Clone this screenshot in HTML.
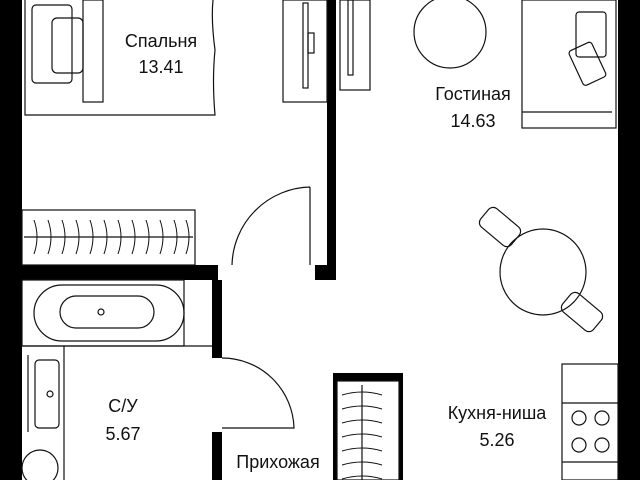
<!DOCTYPE html>
<html><head><meta charset="utf-8"><style>
html,body{margin:0;padding:0;background:#fff;}
svg{display:block;}
text{font-family:"Liberation Sans",sans-serif;font-size:18px;fill:#111;text-anchor:middle;}
</style></head><body>
<svg width="640" height="480" viewBox="0 0 640 480" xmlns="http://www.w3.org/2000/svg">
<g fill="#000">
<rect x="0" y="0" width="22" height="480"/>
<rect x="618" y="0" width="22" height="480"/>
<rect x="327" y="0" width="9" height="277"/>
<rect x="22" y="265" width="196" height="15"/>
<rect x="315" y="265" width="21" height="15"/>
<rect x="212" y="280" width="10" height="78"/>
<rect x="212" y="432" width="10" height="48"/>
<rect x="333" y="373" width="70" height="8"/>
<rect x="333" y="373" width="4" height="107"/>
<rect x="399" y="373" width="4" height="107"/>
</g>
<g fill="none" stroke="#111" stroke-width="1.2">
<path d="M25 0 V115 H215 Q212 80 215 50 Q211 20 213 0"/>
<rect x="83" y="0" width="20" height="102"/>
<rect x="32" y="5" width="40" height="78" rx="4"/>
<rect x="52" y="18" width="31" height="55" rx="5"/>
<rect x="283" y="0" width="44" height="102"/>
<rect x="303" y="3" width="5" height="85"/>
<rect x="308" y="33" width="6" height="20"/>
<rect x="340" y="0" width="30" height="90"/>
<rect x="348" y="0" width="5" height="75"/>
<rect x="22" y="210" width="173" height="55"/>
<line x1="24" y1="237" x2="193" y2="237"/>
<path d="M310 187 V265 M310 187 A80 80 0 0 0 232 265"/>
<rect x="22" y="280" width="162" height="66"/>
<rect x="34" y="285" width="150" height="56" rx="28"/>
<rect x="60" y="296" width="94" height="32" rx="16"/>
<circle cx="101" cy="312" r="3"/>
<line x1="22" y1="346" x2="212" y2="346"/>
<line x1="64" y1="346" x2="64" y2="480"/>
<rect x="35" y="360" width="24" height="68" rx="4"/>
<circle cx="50" cy="394" r="3"/>
<line x1="28" y1="355" x2="28" y2="432"/>
<circle cx="40" cy="468" r="18"/>
<path d="M222 358 A72 72 0 0 1 294 428 H222"/>
<rect x="337" y="381" width="62" height="99"/>
<line x1="362" y1="385" x2="362" y2="480"/>
<circle cx="450" cy="32" r="36"/>
<rect x="522" y="0" width="94" height="128"/>
<line x1="522" y1="112" x2="612" y2="112"/>
<rect x="576" y="12" width="30" height="45" rx="3"/>
<rect x="575" y="45" width="25" height="38" rx="3" transform="rotate(-25 587 64)"/>
<circle cx="543" cy="272" r="43"/>
<rect x="480" y="215" width="40" height="24" rx="6" transform="rotate(40 500 227)"/>
<rect x="562" y="300" width="40" height="24" rx="6" transform="rotate(40 582 312)"/>
<rect x="562" y="364" width="56" height="116"/>
<line x1="562" y1="403" x2="618" y2="403"/>
<line x1="562" y1="462" x2="618" y2="462"/>
<circle cx="579" cy="418" r="7"/><circle cx="602" cy="418" r="7"/>
<circle cx="579" cy="445" r="7"/><circle cx="602" cy="445" r="7"/>
</g>
<g stroke="#111" stroke-width="1" fill="none">
<path d="M34 220 q6 17 0 34 M48 220 q6 17 0 34 M62 220 q6 17 0 34 M76 220 q6 17 0 34 M90 220 q6 17 0 34 M104 220 q6 17 0 34 M118 220 q6 17 0 34 M132 220 q6 17 0 34 M146 220 q6 17 0 34 M160 220 q6 17 0 34 M174 220 q6 17 0 34 M186 220 q6 17 0 34"/>
<path d="M342 395 q20 -6 40 0 M342 409 q20 -6 40 0 M342 423 q20 -6 40 0 M342 437 q20 -6 40 0 M342 451 q20 -6 40 0 M342 465 q20 -6 40 0 M342 479 q20 -6 40 0"/>
</g>
<text x="161" y="47">Спальня</text>
<text x="161" y="73">13.41</text>
<text x="473" y="100">Гостиная</text>
<text x="473" y="127">14.63</text>
<text x="123" y="412">С/У</text>
<text x="123" y="440">5.67</text>
<text x="278" y="468">Прихожая</text>
<text x="278" y="494">4.58</text>
<text x="497" y="419">Кухня-ниша</text>
<text x="497" y="446">5.26</text>
</svg>
</body></html>
